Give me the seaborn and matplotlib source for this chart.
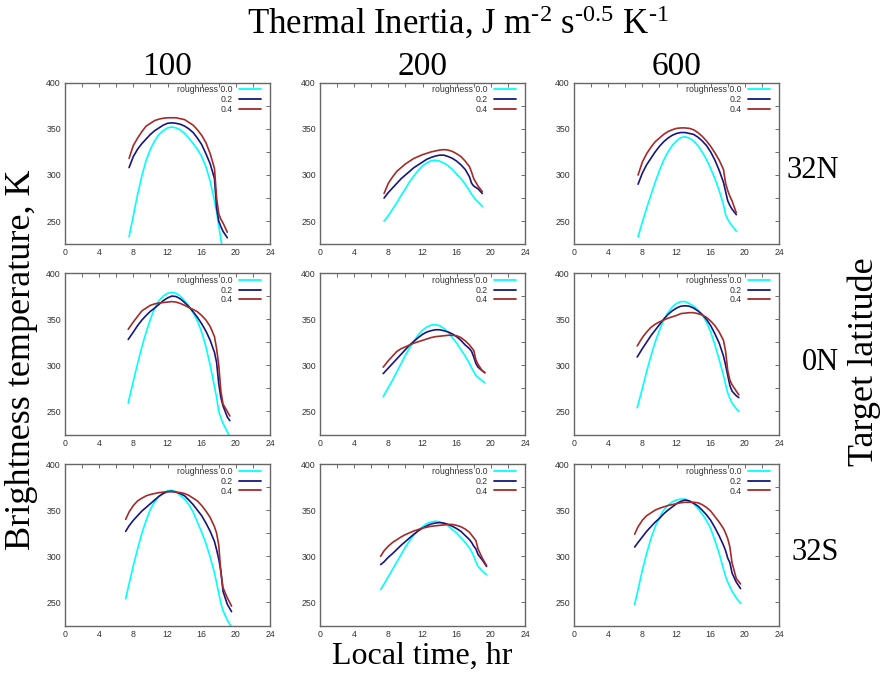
import numpy as np
import pandas as pd
import matplotlib
matplotlib.use('Agg')
import matplotlib.pyplot as plt
from matplotlib.ticker import MultipleLocator
import seaborn as sns

# thermal inertia (columns) and target latitude (rows)
inertias = ['100', '200', '600']
latitudes = ['32N', '0N', '32S']
roughness = ['0.0', '0.2', '0.4']

# local time grid for each latitude row (hr)
hours_32n = [7.5, 8, 8.5, 9, 9.5, 10, 10.5, 11, 11.5, 12, 12.5, 13, 13.5, 14, 14.5,
             15, 15.5, 16, 16.5, 17, 17.5, 17.75, 18, 18.25, 18.5, 19]
hours_0n = [7.4, 8, 8.5, 9, 9.5, 10, 10.5, 11, 11.5, 12, 12.5, 13, 13.5, 14, 14.5,
            15, 15.5, 16, 16.5, 17, 17.5, 17.75, 18, 18.25, 18.5, 19, 19.3]
hours_32s = [7.1, 7.5, 8, 8.5, 9, 9.5, 10, 10.5, 11, 11.5, 12, 12.5, 13, 13.5, 14, 14.5,
             15, 15.5, 16, 16.5, 17, 17.5, 17.75, 18, 18.25, 18.5, 19, 19.5]

# brightness temperature, K  (tb_<lat>_<TI>_<roughness>)
tb_32n_100_00 = [233, 256, 279, 299, 316, 328, 337, 344, 348, 351, 352, 351, 349, 345, 340,
                 334, 328, 320, 309, 293, 272, 260, 245, 230, 217, 195]
tb_32n_100_02 = [308, 320, 328, 334, 339, 344, 348, 351, 354, 356, 356.5, 356, 355, 353, 350,
                 346, 340, 333, 323, 312, 296, 264, 250, 244, 239, 232]
tb_32n_100_04 = [318, 332, 340, 347, 353, 356, 359, 360.5, 361.5, 362, 362, 362, 361, 360, 357,
                 354, 349, 343, 335, 323, 307, 275, 258, 252, 248, 238]

tb_32n_200_00 = [250, 256, 263, 270, 278, 285, 293, 299, 305, 310, 313, 315.5, 316, 315, 313,
                 310, 306, 301, 296, 290, 283, 279, 276, 273, 271, 266]
tb_32n_200_02 = [275, 281, 286, 291, 296, 300, 304, 308, 311, 314, 317, 319, 320.5, 321.5, 321.5,
                 320, 318, 315, 311, 306, 298, 291, 288, 286.5, 285, 280]
tb_32n_200_04 = [280, 291, 298, 304, 308, 312, 315, 318, 320, 322, 323.5, 325, 326, 327, 327.5,
                 327, 325.5, 323, 320, 315, 309, 303, 296, 292, 288, 282]

tb_32n_600_00 = [233, 249, 264, 278, 292, 305, 316, 325, 332, 337, 340.5, 341.5, 340, 337, 332,
                 325, 317, 307, 296, 283, 268, 257, 252, 248, 245, 239]
tb_32n_600_02 = [290, 302, 311, 318, 325, 331, 336, 340, 343, 345, 346, 346, 345, 344, 341,
                 337, 332, 325, 316, 305, 292, 282, 272, 267, 263, 257]
tb_32n_600_04 = [300, 314, 323, 330, 336, 340, 344, 347, 349, 350.5, 351, 351, 350.5, 349, 346,
                 342, 337, 331, 324, 316, 306, 291, 283, 277, 272, 259]

tb_0n_100_00 = [259, 283, 302, 320, 336, 350, 362, 370, 375, 378, 379, 378, 375, 370, 364,
                357, 348, 336, 320, 300, 277, 265, 250, 243, 237, 228, 222]
tb_0n_100_02 = [328, 336, 343, 349, 354, 358.5, 362, 366, 370, 373, 375, 374.5, 372, 368, 363.5,
                358, 352, 345, 337, 327, 314, 303, 280, 265, 256, 244, 240]
tb_0n_100_04 = [339, 347, 353, 359, 362, 365, 366.5, 367.5, 368, 368.5, 369, 368.5, 367, 365, 362.5,
                360.5, 358, 354, 349, 342, 331, 318, 300, 272, 258, 250, 245]

tb_0n_200_00 = [266, 276, 284, 293, 302, 311, 319, 326, 333, 338, 341.5, 343.5, 344, 343, 340,
                336, 330, 324, 317, 310, 302, 297, 293, 289, 287, 283, 281]
tb_0n_200_02 = [291, 297, 302, 307, 312, 317, 322, 326, 330, 333.5, 336, 337.5, 338.5, 338.5, 337.5,
                336, 334, 331, 327, 322, 318, 315, 309, 302, 298, 294, 292]
tb_0n_200_04 = [298, 305, 310, 315, 318, 320, 322, 324, 325.5, 327, 328.5, 330, 331, 331.5, 332,
                332.5, 332.5, 332, 330, 326.5, 322, 319, 316, 306, 301, 294, 292]

tb_0n_600_00 = [254, 275, 293, 310, 325, 338, 349, 357, 363, 367, 369, 369, 367, 364, 360,
                355, 347, 336, 322, 306, 289, 279, 270, 264, 259, 253, 250]
tb_0n_600_02 = [309, 318, 325, 332, 338, 344, 350, 355, 359, 362, 364, 364.5, 364, 362, 359,
                355, 350, 343, 334, 324, 310, 300, 289, 278, 272, 267, 265]
tb_0n_600_04 = [321, 330, 336, 341, 344.5, 347, 349, 351, 352.5, 354, 356, 356.5, 357, 357, 356,
                354.5, 352, 348, 343, 336, 327, 315, 294, 284, 279, 272, 268]

tb_32s_100_00 = [254, 270, 290, 308, 325, 339, 351, 359, 365, 369, 371, 371.5, 370, 366, 362, 356,
                 348, 337, 326, 314, 299, 282, 271, 260, 249, 241, 231, 223]
tb_32s_100_02 = [327, 333, 339, 344, 349, 353, 357, 361, 365, 368, 370, 370.5, 369.5, 368, 365.5, 361,
                 356, 350, 344, 336, 327, 316, 307, 297, 284, 262, 248, 240]
tb_32s_100_04 = [340, 348, 355, 360, 363, 365.5, 367, 368, 369, 369.5, 370, 370, 369.5, 369, 368, 366,
                 363, 360, 355, 349, 342, 332, 325, 312, 282, 266, 255, 246]

tb_32s_200_00 = [264, 270, 278, 286, 294, 302, 310, 317, 323, 328, 332, 335.5, 337, 338, 337.5, 335.5,
                 333, 329, 325, 320, 315, 309, 305, 300, 294, 289, 284, 280]
tb_32s_200_02 = [291, 294, 299, 303, 307.5, 312, 316, 320, 324, 327.5, 330.5, 333, 335, 336, 336.5, 336,
                 334.5, 332.5, 330, 327, 322.5, 318, 315, 311, 308, 302, 296, 289]
tb_32s_200_04 = [300, 306, 311, 315, 318, 321, 323.5, 325.5, 327.5, 329, 330.5, 331.5, 332.5, 333, 333.5, 334,
                 334.5, 334.5, 333.5, 332, 329.5, 326, 323, 320, 317, 308, 298, 290]

tb_32s_600_00 = [248, 264, 285, 303, 319, 332, 342, 350, 355, 359, 361, 362, 362, 360, 357, 352,
                 346, 339, 330, 317, 303, 286, 278, 272, 267, 262, 255, 249]
tb_32s_600_02 = [310, 315, 321, 327, 332, 337, 341, 346, 350, 353.5, 357, 359.5, 361, 360, 357.5, 354.5,
                 350, 345, 339, 331, 322, 312, 306, 298, 293, 282, 272, 265]
tb_32s_600_04 = [324, 332, 339, 344, 347, 350, 352, 353.5, 355, 356, 357, 358, 358.5, 358.5, 358.5, 358,
                 356, 353, 349, 343, 337, 330, 325, 319, 310, 293, 276, 270]

row_hours = {'32N': hours_32n, '0N': hours_0n, '32S': hours_32s}
panels = {
    ('32N', '100'): [tb_32n_100_00, tb_32n_100_02, tb_32n_100_04],
    ('32N', '200'): [tb_32n_200_00, tb_32n_200_02, tb_32n_200_04],
    ('32N', '600'): [tb_32n_600_00, tb_32n_600_02, tb_32n_600_04],
    ('0N', '100'): [tb_0n_100_00, tb_0n_100_02, tb_0n_100_04],
    ('0N', '200'): [tb_0n_200_00, tb_0n_200_02, tb_0n_200_04],
    ('0N', '600'): [tb_0n_600_00, tb_0n_600_02, tb_0n_600_04],
    ('32S', '100'): [tb_32s_100_00, tb_32s_100_02, tb_32s_100_04],
    ('32S', '200'): [tb_32s_200_00, tb_32s_200_02, tb_32s_200_04],
    ('32S', '600'): [tb_32s_600_00, tb_32s_600_02, tb_32s_600_04],
}

# long table for seaborn
rows = []
for (lat, ti), series in panels.items():
    for rough, vals in zip(roughness, series):
        for h, t in zip(row_hours[lat], vals):
            rows.append({'lat': lat, 'ti': ti, 'rough': rough, 'hour': h, 'tb': t})
df = pd.DataFrame(rows)

sns.set_style('white')
plt.rcParams['font.family'] = ['Liberation Serif', 'DejaVu Serif']
plt.rcParams['text.color'] = 'black'
plt.rcParams['mathtext.fontset'] = 'custom'
plt.rcParams['mathtext.rm'] = 'Liberation Serif'
plt.rcParams['mathtext.it'] = 'Liberation Serif:italic'
plt.rcParams['mathtext.default'] = 'regular'

palette = {'0.0': '#00ffff', '0.2': '#16167f', '0.4': '#a52a2a'}
legend_labels = {'0.0': 'roughness 0.0', '0.2': '0.2', '0.4': '0.4'}
tick_font = {'family': 'Liberation Sans', 'size': 6.3}

fig = plt.figure(figsize=(8.88, 6.76), dpi=100)

col_left = [65, 320, 574]
row_top = [82.7, 273, 464]
ax_w, ax_h = 205, 161.5
W, H = 888, 676

for i, lat in enumerate(latitudes):
    for j, ti in enumerate(inertias):
        ax = fig.add_axes([col_left[j] / W, 1 - (row_top[i] + ax_h) / H, ax_w / W, ax_h / H])
        sub = df[(df['lat'] == lat) & (df['ti'] == ti)].copy()
        sub['label'] = sub['rough'].map(legend_labels)
        sns.lineplot(data=sub, x='hour', y='tb', hue='label',
                     palette={legend_labels[k]: v for k, v in palette.items()},
                     hue_order=[legend_labels[r] for r in roughness], linewidth=1.2, ax=ax,
                     sort=False, estimator=None)
        ax.set_xlim(0, 24)
        ax.set_ylim(225, 400)
        ax.xaxis.set_major_locator(MultipleLocator(4))
        ax.xaxis.set_minor_locator(MultipleLocator(2))
        ax.yaxis.set_minor_locator(MultipleLocator(25))
        ax.set_yticks([250, 300, 350, 400])
        ax.tick_params(which='both', direction='in', top=True, right=True, length=3, width=0.6,
                       color='#555555', pad=3)
        ax.set_xticklabels([f'{int(v)}' for v in ax.get_xticks()], fontdict=tick_font, color='#333333')
        ax.set_yticklabels([f'{int(v)}' for v in ax.get_yticks()], fontdict=tick_font, color='#333333')
        ax.set_xlabel('')
        ax.set_ylabel('')
        for sp in ax.spines.values():
            sp.set_color('#666666')
            sp.set_linewidth(1.0)
        # gnuplot-like key: labels right-aligned, sample line on the right
        leg = ax.legend(loc='upper right', bbox_to_anchor=(1 - 7 / ax_w, 1 - 1 / ax_h),
                        frameon=False, markerfirst=False,
                        prop={'family': 'Liberation Sans', 'size': 6.3},
                        handlelength=2.5, handletextpad=0.8, labelspacing=0.1,
                        borderaxespad=0, borderpad=0.2)
        for line in leg.get_lines():
            line.set_linewidth(1.3)
        for t in leg.get_texts():
            t.set_color('#333333')

# column headers
for j, ti in enumerate(inertias):
    fig.text((col_left[j] + ax_w / 2) / W, 1 - 67 / H, ti, ha='center', va='center', fontsize=24)

# row labels
row_y = [170, 362, 552]
for i, lat in enumerate(latitudes):
    fig.text(839 / W, 1 - row_y[i] / H, lat, ha='right', va='center', fontsize=22)

fig.text(458 / W, 1 - 23 / H, r'Thermal Inertia, J m$^{\text{-2}}$ s$^{\text{-0.5}}$ K$^{\text{-1}}$',
         ha='center', va='center', fontsize=25)
fig.text(422 / W, 1 - 656 / H, 'Local time, hr', ha='center', va='center', fontsize=23)
fig.text(22 / W, 1 - 360 / H, 'Brightness temperature, K', ha='center', va='center',
         rotation=90, fontsize=26)
fig.text(864 / W, 1 - 362 / H, 'Target latitude', ha='center', va='center',
         rotation=90, fontsize=26)

fig.savefig('out.png', dpi=100)
